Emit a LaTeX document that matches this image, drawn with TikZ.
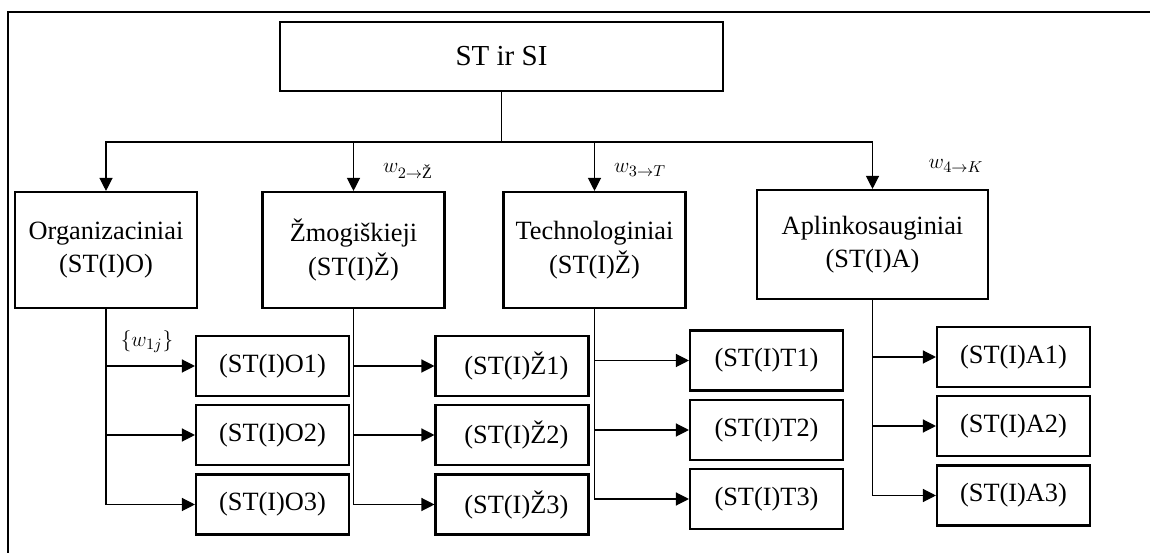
\documentclass[tikz,border=0pt]{standalone}
\usepackage{amsmath}
\usepackage{fontspec}
\setmainfont{Liberation Serif}
\usetikzlibrary{arrows.meta}

\begin{document}
\begin{tikzpicture}[x=0.02cm, y=-0.02cm,
    box/.style={draw, line width=1.2pt, inner sep=0pt, align=center,
      font=\fontsize{15}{19}\selectfont},
    topbox/.style={box, minimum width=8.86cm, minimum height=1.38cm,
      font=\fontsize{16.5}{19}\selectfont},
    catbox/.style={box, minimum width=3.64cm, minimum height=2.32cm},
    subbox/.style={box, minimum width=3.06cm, minimum height=1.2cm},
    link/.style={line width=0.7pt, -{Triangle[length=0.26cm, width=0.26cm]}},
    wlabel/.style={font=\fontsize{13}{15}\selectfont}]
    \useasboundingbox (0,0) rectangle (1150,553);

    % outer frame
    \begin{scope}
      \clip (0,0) rectangle (1150,553);
      \draw[line width=1.1pt] (8,12) rectangle (1180,580);
    \end{scope}

    % top level
    \node[topbox] (st) at (501.5,56.5) {ST ir SI};
    \coordinate (fork) at (501.5,142);

    % categories
    \node[catbox] (org) at (106,250) {Organizaciniai\\(ST(I)O)};
    \node[catbox] (zmo) at (353.5,250) {Žmogiškieji\\(ST(I)Ž)};
    \node[catbox] (tech) at (594.5,250) {Technologiniai\\(ST(I)Ž)};
    \node[catbox, minimum width=4.62cm, minimum height=2.18cm] (apl)
      at (872.5,244.5) {Aplinkosauginiai\\(ST(I)A)};

    % sub-criteria
    \foreach \i/\y in {1/366, 2/435, 3/504.5} {
      \node[subbox] (org\i) at (272.5,\y) {(ST(I)O\i)};
      \node[subbox] (zmo\i) at (512,\y) {\hspace{5pt}(ST(I)Ž\i)};
    }
    \foreach \i/\y in {1/360.5, 2/430, 3/499}
      \node[subbox] (tech\i) at (766.5,\y) {(ST(I)T\i)};
    \foreach \i/\y in {1/357, 2/426, 3/495.5}
      \node[subbox] (apl\i) at (1013.5,\y) {(ST(I)A\i)};

    % connectors
    \draw[line width=1.1pt] (st.south) -- (fork);
    \foreach \c in {org, zmo, tech, apl}
      \draw[link] (fork) -| (\c.north);
    \foreach \c in {org, zmo, tech, apl}
      \foreach \i in {1, 2, 3}
        \draw[link] (\c.south) |- (\c\i.west);

    % weights
    \node[wlabel] (w1) at (147,342) {$\{w_{1j}\}$};
    \node[wlabel] (w2) at (408,171) {$w_{2\to\text{Ž}}$};
    \node[wlabel] (w3) at (640,170) {$w_{3\to T}$};
    \node[wlabel] (w4) at (956,166) {$w_{4\to K}$};
  \end{tikzpicture}
\end{document}
